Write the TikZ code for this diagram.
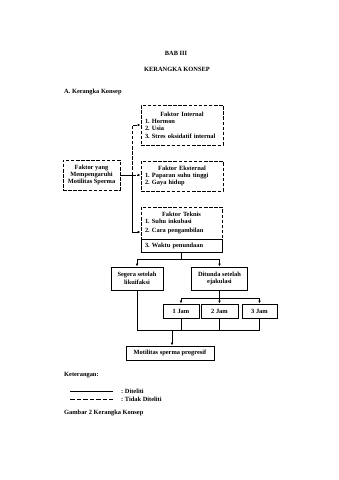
\documentclass[tikz,border=0pt]{standalone}
\usepackage{fontspec}
\setmainfont{Liberation Serif}
\usetikzlibrary{arrows.meta}
\frenchspacing
\begin{document}
\begin{tikzpicture}[x=1pt,y=-1pt,
  every node/.style={font=\fontsize{6.4}{7.4}\selectfont\bfseries\frenchspacing, inner sep=0pt},
  dbox/.style={draw, line width=0.8pt, dash pattern=on 3.5pt off 1.6pt},
  sbox/.style={draw, line width=0.85pt},
  sline/.style={line width=0.85pt},
  dline/.style={line width=0.85pt, dash pattern=on 3.5pt off 1.6pt},
  arr/.style={-{Latex[length=3pt,width=2.6pt]}},
  lbl/.style={anchor=west}]
\useasboundingbox[fill=white] (0,0) rectangle (339,480);

% titles
\node (t1) at (176,53) {BAB III};
\node (t2) at (177,69) {KERANGKA KONSEP};
\node[anchor=west] (t3) at (64,92) {A. Kerangka Konsep};

% factor boxes
\node[dbox, align=center, minimum width=57pt, minimum height=30pt] (fy) at (91.5,175)
  {Faktor yang\\Mempengaruhi\\Motilitas Sperma};
\node[dbox, text width=74pt, inner xsep=4pt, minimum height=40pt] (int) at (182,125)
  {\centering Faktor Internal\par\raggedright 1. Hormon\par 2. Usia\par 3. Stres oksidatif internal\par};
\node[dbox, text width=74pt, inner xsep=4pt, minimum height=30pt] (ext) at (182,176)
  {\centering Faktor Eksternal\par\raggedright 1. Paparan suhu tinggi\par 2. Gaya hidup\par};
\node[dbox, text width=73pt, inner xsep=4pt, minimum height=32pt] (tek) at (181.5,223)
  {\centering Faktor Teknis\par\raggedright 1. Suhu inkubasi\par\vspace{1.6pt}2. Cara pengambilan\par};
\node[sbox, text width=73pt, inner xsep=4pt, minimum height=13pt] (wak) at (181.5,245.5)
  {3. Waktu penundaan};

% timing boxes
\node[sbox, align=center, minimum width=52pt, minimum height=23pt] (seg) at (137,278.5)
  {Segera setelah\\likuifaksi};
\node[sbox, align=center, minimum width=56pt, minimum height=23pt] (dit) at (219.5,278.5)
  {Ditunda setelah\\ejakulasi};
\node[sbox, minimum width=36pt, minimum height=14pt] (j1) at (181,311) {1 Jam};
\node[sbox, minimum width=37pt, minimum height=14pt] (j2) at (219.5,311) {2 Jam};
\node[sbox, minimum width=35pt, minimum height=14pt] (j3) at (259.5,311) {3 Jam};
\node[sbox, minimum width=88pt, minimum height=14pt] (mot) at (170,353) {Motilitas sperma progresif};

% connectors from Faktor yang
\coordinate (j) at (132,175);
\coordinate (jt) at (132,232);
\draw[sline] (fy.east) -- (j);
\draw[dline,arr] (j) -- (j -| ext.west);
\draw[dline,arr] (j) |- (int.west);
\draw[sline,arr] (j) -- (jt) -- (jt -| tek.west);

% to timing
\coordinate (b1) at (181.5,259);
\draw[sline] (wak.south) -- (b1);
\draw[sline,arr] (b1) -| (seg.north);
\draw[sline,arr] (b1) -| (dit.north);

\coordinate (b2) at (219.5,298);
\draw[sline] (dit.south) -- (b2);
\draw[sline,arr] (b2) -| (j1.north);
\draw[sline,arr] (b2) -- (j2.north);
\draw[sline,arr] (b2) -| (j3.north);

\coordinate (b3) at (172,330);
\draw[sline] (seg.south) -- (seg.south |- b3) -- (j3.south |- b3) -- (j3.south);
\draw[sline] (j1.south) -- (j1.south |- b3);
\draw[sline] (j2.south) -- (j2.south |- b3);
\draw[sline,arr] (b3) -- (b3 |- mot.north);

% legend
\node[anchor=west] (ket) at (64,375) {Keterangan:};
\coordinate (l1) at (70,391);
\coordinate (l2) at (113,391);
\coordinate (l3) at (70,399);
\coordinate (l4) at (113,399);
\draw[sline] (l1) -- (l2);
\draw[line width=0.85pt, dash pattern=on 4.5pt off 2pt] (l3) -- (l4);
\node[lbl] (d1) at (121,391) {: Diteliti};
\node[lbl] (d2) at (121,399) {: Tidak Diteliti};
\node[anchor=west] (cap) at (64,413) {Gambar 2 Kerangka Konsep};
\end{tikzpicture}
\end{document}
